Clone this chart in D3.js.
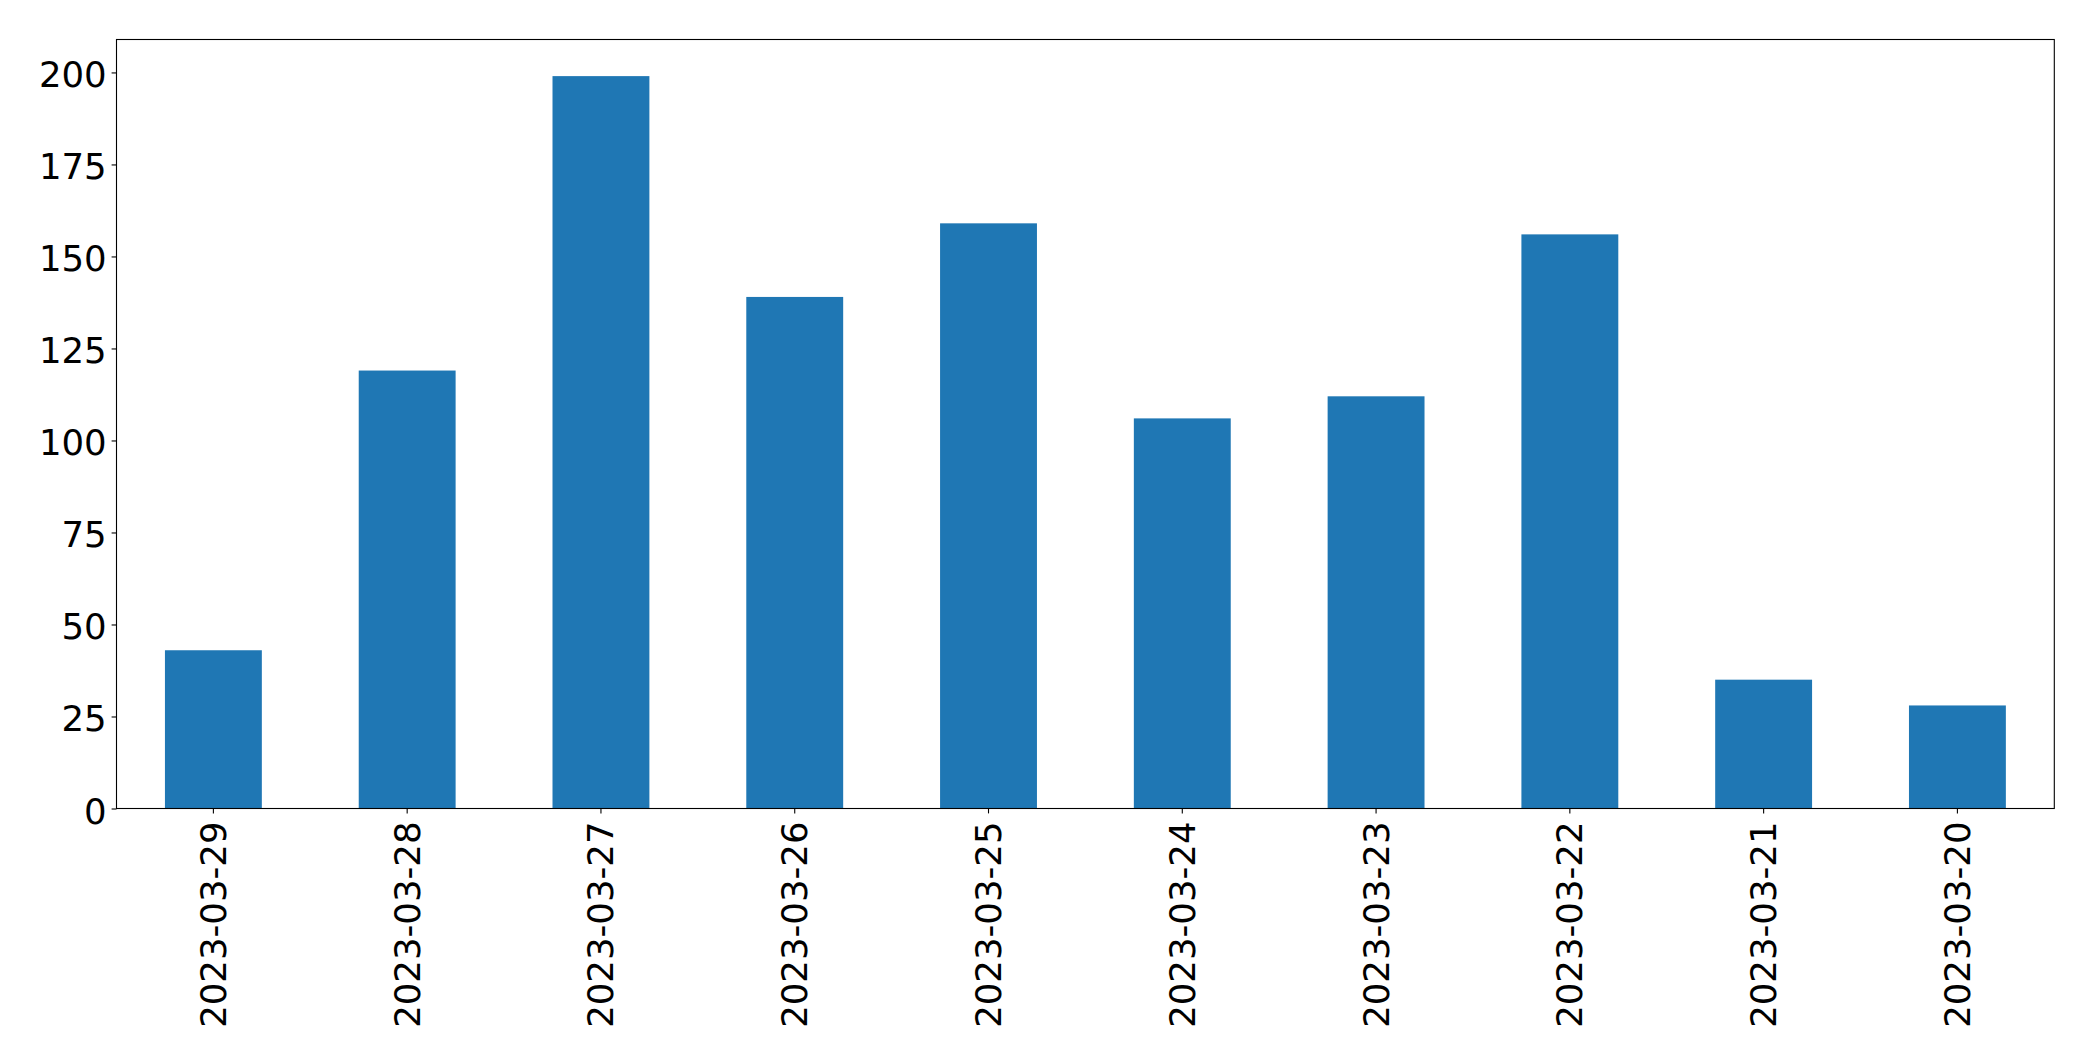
<!DOCTYPE html>
<html><head><meta charset="utf-8">
<script src="https://cdn.jsdelivr.net/npm/d3@7"></script>
<style>html,body{margin:0;padding:0;background:#fff;}svg{display:block;}</style>
</head><body>
<script>
const categories = ["2023-03-29","2023-03-28","2023-03-27","2023-03-26","2023-03-25","2023-03-24","2023-03-23","2023-03-22","2023-03-21","2023-03-20"];
const values = [43,119,199,139,159,106,112,156,35,28];
const yTicks = [0,25,50,75,100,125,150,175,200];

const W = 2093, H = 1061;
const m = {left:116.5, top:39.5, right:2054.3, bottom:808.5};
const svg = d3.select("body").append("svg").attr("width",W).attr("height",H);
const x = d3.scaleBand().domain(categories).range([m.left,m.right]).paddingInner(0.5).paddingOuter(0.25);
const y = d3.scaleLinear().domain([0, d3.max(values)*1.05]).range([m.bottom,m.top]);
const font = "'DejaVu Sans', sans-serif";
const fs = 35.5;

svg.append("g").selectAll("rect").data(values).join("rect")
  .attr("x",(d,i)=>x(categories[i])).attr("width",x.bandwidth())
  .attr("y",d=>y(d)).attr("height",d=>y(0)-y(d)).attr("fill","#1f77b4");

const ya = svg.append("g").attr("transform",`translate(${m.left},0)`)
  .call(d3.axisLeft(y).tickValues(yTicks).tickSize(4.9).tickPadding(4.9));
ya.select(".domain").remove();
ya.selectAll("line").attr("stroke","#000").attr("stroke-width",1.1);
ya.selectAll("text").attr("font-family",font).attr("font-size",fs).attr("fill","#000")
  .attr("dy",null).attr("dominant-baseline","central").attr("y",2);

const xa = svg.append("g").attr("transform",`translate(0,${m.bottom})`)
  .call(d3.axisBottom(x).tickSize(4.9).tickPadding(0));
xa.select(".domain").remove();
xa.selectAll("line").attr("stroke","#000").attr("stroke-width",1.1);
xa.selectAll("text").attr("font-family",font).attr("font-size",fs).attr("fill","#000")
  .attr("text-anchor","end").attr("dy",null).attr("y",0)
  .attr("dominant-baseline","central")
  .attr("transform","translate(0,13) rotate(-90)");

svg.append("rect").attr("x",m.left).attr("y",m.top).attr("width",m.right-m.left).attr("height",m.bottom-m.top)
  .attr("fill","none").attr("stroke","#000").attr("stroke-width",1.1);
</script>
</body></html>
